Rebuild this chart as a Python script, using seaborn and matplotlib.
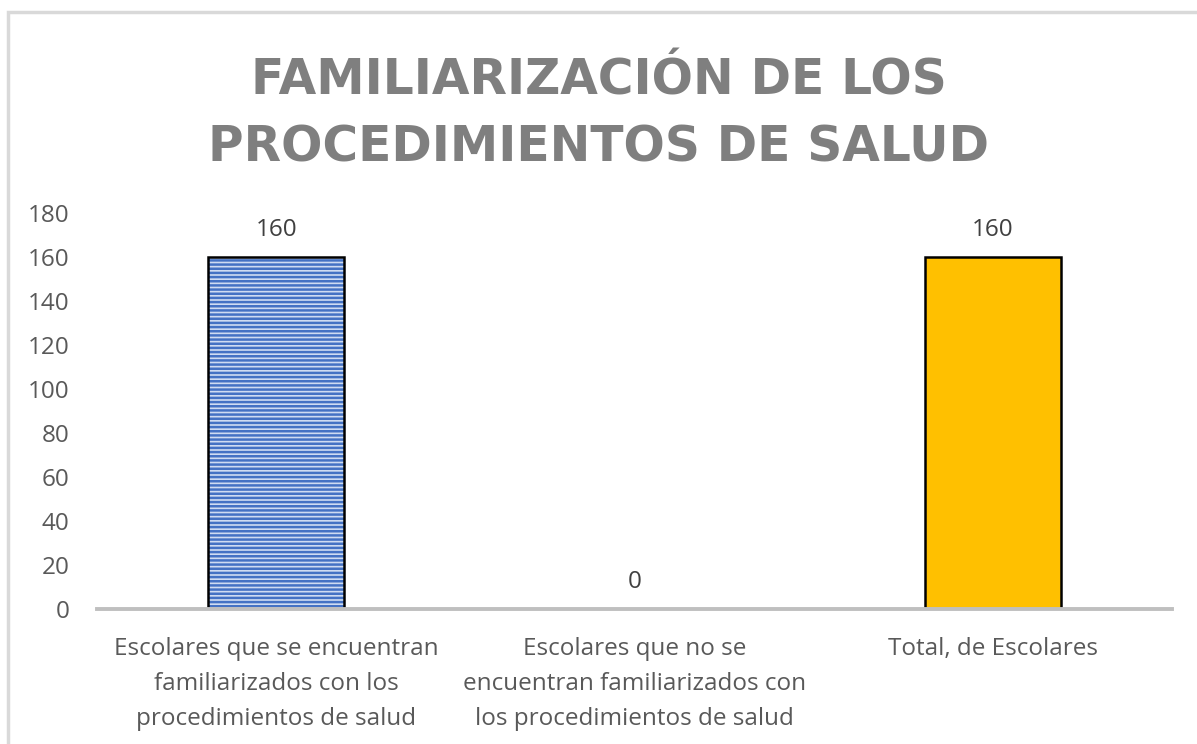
import matplotlib
matplotlib.use('Agg')
import matplotlib.pyplot as plt
import seaborn as sns
import pandas as pd
from matplotlib.patches import Rectangle

#--Data--#
categorias = ['Escolares que se encuentran\nfamiliarizados con los\nprocedimientos de salud',
              'Escolares que no se\nencuentran familiarizados con\nlos procedimientos de salud',
              'Total, de Escolares']
valores = [160, 0, 160]
colores = ['#8FAADC', '#5B9BD5', '#FFC000']
titulo = 'FAMILIARIZACIÓN DE LOS\nPROCEDIMIENTOS DE SALUD'

df = pd.DataFrame({'categoria': categorias, 'valor': valores})

sns.set_theme(style='white')
plt.rcParams['font.family'] = ['Open Sans', 'DejaVu Sans']
plt.rcParams['hatch.linewidth'] = 1.8

fig = plt.figure(figsize=(11.97, 7.44), dpi=100)
ax = fig.add_axes([97 / 1197, 1 - 609 / 744, 1075 / 1197, 396 / 744])

sns.barplot(data=df, x='categoria', y='valor', hue='categoria', palette=colores,
            width=0.38, legend=False, ax=ax, saturation=1)

#--Bar styling: striped blue, plain yellow, black outline--#
for p in ax.patches:
    p.set_edgecolor('black')
    p.set_linewidth(1.8)
ax.patches[0].set_hatch('----')
ax.patches[0].set_facecolor('#CFDCF2')
ax.patches[0]._hatch_color = matplotlib.colors.to_rgba('#4472C4')

for i, v in enumerate(valores):
    ax.annotate(str(v), (i, v), xytext=(0, 11), textcoords='offset points',
                ha='center', va='bottom', fontsize=17.5, color='#404040')

ax.set_ylim(0, 180)
ax.set_yticks(range(0, 181, 20))
ax.set_xlim(-0.5, 2.5)
ax.set_xlabel('')
ax.set_ylabel('')
ax.tick_params(axis='both', length=0, labelsize=17.5, labelcolor='#595959')
ax.tick_params(axis='y', pad=20)
ax.tick_params(axis='x', pad=20)
for lbl in ax.get_xticklabels():
    lbl.set_linespacing(1.62)
for s in ['top', 'right', 'left']:
    ax.spines[s].set_visible(False)
ax.spines['bottom'].set_color('#BFBFBF')
ax.spines['bottom'].set_linewidth(2.8)

fig.text(0.5, 1 - 114 / 744, titulo, ha='center', va='center', fontsize=35,
         fontweight='bold', color='#7F7F7F', linespacing=1.5, family=['DejaVu Sans'])

#--Outer chart border--#
fig.patches.append(Rectangle((8 / 1197, -0.1), 1.2, 1 - 12 / 744 + 0.1, transform=fig.transFigure,
                             fill=False, edgecolor='#D9D9D9', linewidth=2.5))

plt.savefig('out.png', dpi=100)
